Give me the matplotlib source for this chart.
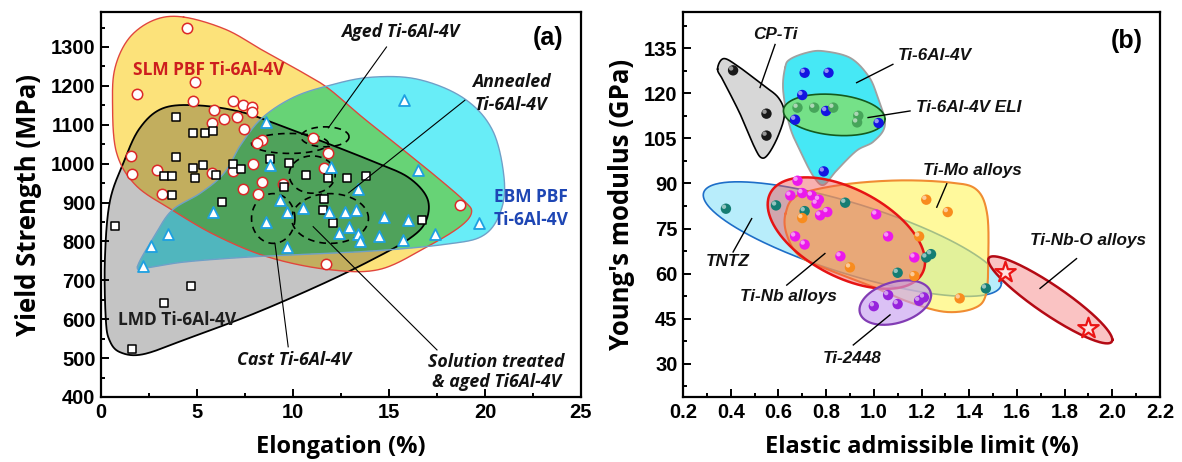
import numpy as np
import matplotlib
matplotlib.use("Agg")
import matplotlib.pyplot as plt
from matplotlib.path import Path
from matplotlib.patches import Polygon
import matplotlib.transforms as mtransforms
from matplotlib.ticker import MultipleLocator, FormatStrFormatter

# ---------------- Panel (a) data ----------------
slm_elong = [4.5, 4.9, 1.9, 4.8, 6.9, 7.4, 7.85, 5.9, 7.85, 7.1, 6.4, 5.8, 7.45, 11.05, 8.4, 8.1,
             11.8, 1.55, 7.9, 1.6, 2.9, 5.8, 6.9, 8.4, 7.4, 8.2, 9.5, 11.6, 3.2, 11.7, 18.7]
slm_ys = [1350, 1210, 1180, 1160, 1160, 1150, 1146, 1138, 1133, 1120, 1114, 1105, 1088, 1065, 1061, 1052,
          1028, 1019, 999, 973, 985, 975, 982, 953, 935, 921, 947, 988, 921, 743, 894]

lmd_elong = [3.9, 4.8, 5.4, 5.85, 3.9, 3.3, 3.7, 4.8, 5.3, 4.9, 6.9, 7.3, 6.0, 3.7, 8.8, 9.8, 9.55,
             10.7, 11.8, 12.8, 13.8, 6.3, 0.73, 4.7, 3.3, 1.6, 11.6, 11.55, 12.1, 16.7]
lmd_ys = [1119, 1078, 1079, 1084, 1018, 969, 969, 988, 996, 962, 1000, 986, 970, 919, 1013, 1002, 940,
          972, 962, 962, 969, 902, 840, 685, 641, 523, 908, 881, 848, 856]

ebm_elong = [8.6, 8.8, 12.0, 13.4, 5.85, 3.5, 2.6, 2.2, 9.3, 9.7, 10.5, 8.6, 9.7, 11.9, 12.7, 13.3,
             12.4, 12.9, 13.4, 13.5, 14.5, 14.75, 16.0, 15.75, 17.4, 19.7, 15.8, 16.5]
ebm_ys = [1108, 996, 992, 934, 875, 819, 788, 737, 906, 876, 887, 851, 786, 876, 875, 882,
          822, 838, 820, 801, 814, 863, 856, 805, 820, 848, 1163, 983]

# region outlines (control points, data units)
slm_zone_x = [4.3, 6.5, 8.4, 10.3, 11.8, 13.6, 15.5, 17.5, 18.9, 19.3, 18.7, 17.0, 14.5, 11.8, 8.7, 6.0,
              3.7, 1.8, 0.8, 0.6, 0.75, 1.5, 2.8]
slm_zone_y = [1377, 1345, 1292, 1240, 1195, 1120, 1045, 965, 905, 875, 838, 787, 728, 728, 760, 815,
              881, 945, 1030, 1160, 1250, 1325, 1370]
lmd_zone_x = [0.25, 0.2, 0.45, 1.15, 2.0, 3.2, 5.0, 7.3, 9.5, 11.8, 14.2, 16.0, 17.0, 16.9, 16.0, 14.0,
              11.5, 8.0, 4.5, 2.2, 1.0, 0.45]
lmd_zone_y = [600, 750, 900, 1000, 1090, 1142, 1150, 1133, 1095, 1052, 1005, 965, 910, 850, 805, 750,
              690, 615, 550, 510, 515, 545]
ebm_zone_x = [1.9, 2.8, 3.7, 5.2, 6.4, 7.3, 8.4, 10.0, 11.8, 14.0, 16.5, 18.9, 20.4, 21.0, 20.8, 19.9,
              18.0, 14.0, 8.4, 4.5, 2.5]
ebm_zone_y = [735, 815, 880, 925, 975, 1050, 1118, 1170, 1200, 1222, 1217, 1168, 1085, 960, 875, 815,
              793, 775, 762, 748, 733]

# ---------------- Panel (b) data ----------------
cp_x = [0.41, 0.55, 0.55]
cp_y = [127.6, 113.2, 105.9]
ti64_x = [0.71, 0.81, 0.70, 0.67, 0.80, 1.02, 0.79]
ti64_y = [126.8, 126.8, 119.4, 111.2, 114.1, 110.1, 94.0]
eli_x = [0.68, 0.75, 0.83, 0.935, 0.93]
eli_y = [115.2, 115.2, 115.2, 112.5, 110.3]
tinb_x = [0.68, 0.65, 0.70, 0.74, 0.77, 0.76, 0.805, 0.775, 1.01, 1.06, 0.67, 0.71, 0.86, 1.17]
tinb_y = [90.9, 86.0, 86.8, 86.0, 84.6, 83.3, 80.5, 79.4, 79.7, 72.4, 72.4, 69.7, 65.8, 65.4]
timo_x = [1.22, 1.31, 0.70, 1.19, 0.90, 1.17, 1.36]
timo_y = [84.6, 80.5, 78.5, 72.4, 62.1, 59.2, 51.8]
tntz_x = [0.38, 0.59, 0.71, 0.88, 1.10, 1.22, 1.24, 1.47]
tntz_y = [81.6, 82.7, 80.8, 83.6, 60.3, 65.4, 66.5, 55.1]
ti2448_x = [1.0, 1.06, 1.10, 1.19, 1.21]
ti2448_y = [49.2, 52.9, 49.9, 51.0, 52.1]
tinbo_x = [1.55, 1.90]
tinbo_y = [60.6, 41.9]

cpti_zone_x = [0.345, 0.37, 0.43, 0.53, 0.60, 0.625, 0.60, 0.56, 0.53, 0.50, 0.44, 0.37]
cpti_zone_y = [128, 131.5, 129, 123, 118.5, 113, 106, 100, 98.5, 102, 113, 124]
ti64_zone_x = [0.628, 0.649, 0.72, 0.788, 0.90, 0.975, 1.012, 1.047, 1.0, 0.928, 0.844, 0.79, 0.75, 0.704, 0.649, 0.62]
ti64_zone_y = [128.5, 131.3, 133.5, 134, 131.8, 126, 119.7, 109.7, 104, 100.9, 94.3, 89.5, 92, 98.7, 108.6, 120.8]
timo_zone_x = [0.63, 0.68, 0.86, 1.10, 1.32, 1.43, 1.475, 1.48, 1.47, 1.42, 1.30, 1.15, 1.0, 0.82, 0.69, 0.635]
timo_zone_y = [80, 86, 89.5, 91, 90.3, 88, 80, 65, 53, 48.5, 47.3, 50.5, 55.5, 61, 65.8, 73]
# ellipses: centre x, centre y, half-width (x), half-height (y), shear slope
eli_ell = (0.834, 112.8, 0.213, 6.77, -6.3)
tntz_ell = (0.91, 71.5, 0.625, 12.2, -23.4)
tinb_ell = (0.885, 73.5, 0.33, 15.9, -28.8)
ti2448_ell = (1.09, 50.4, 0.15, 7.0, 16.0)
tinbo_ell = (1.74, 51.3, 0.26, 5.8, -51.0)


def closed_spline(xs, ys, n=40):
    P = np.column_stack([xs, ys]).astype(float)
    N = len(P)
    t = np.linspace(0, 1, n, endpoint=False)[:, None]
    out = []
    for i in range(N):
        p0, p1, p2, p3 = P[i - 1], P[i], P[(i + 1) % N], P[(i + 2) % N]
        out.append(0.5 * ((2 * p1) + (-p0 + p2) * t + (2 * p0 - 5 * p1 + 4 * p2 - p3) * t ** 2
                          + (-p0 + 3 * p1 - 3 * p2 + p3) * t ** 3))
    c = np.vstack(out)
    return np.vstack([c, c[:1]])


def ellipse(cx, cy, a, b, s, n=300):
    t = np.linspace(0, 2 * np.pi, n)
    return np.column_stack([cx + a * np.cos(t), cy + b * np.sin(t) + s * a * np.cos(t)])


def rgb(r, g, b):
    return (r / 255, g / 255, b / 255)


plt.rcParams['font.family'] = ['Liberation Sans', 'DejaVu Sans']
fig = plt.figure(figsize=(11.82, 4.62), dpi=100)
axA = fig.add_axes([101 / 1182, 1 - 397 / 462, 480 / 1182, 385 / 462])
axB = fig.add_axes([683 / 1182, 1 - 397 / 462, 477 / 1182, 385 / 462])

# ================= Panel (a) =================
xlimA, ylimA = (0, 25), (400, 1390)
slm_c = closed_spline(slm_zone_x, slm_zone_y)
lmd_c = closed_spline(lmd_zone_x, lmd_zone_y)
ebm_c = closed_spline(ebm_zone_x, ebm_zone_y)

nx, ny = 1400, 1000
gx = np.linspace(*xlimA, nx)
gy = np.linspace(*ylimA, ny)
GX, GY = np.meshgrid(gx, gy)
pts = np.column_stack([GX.ravel(), GY.ravel()])
img = np.ones((ny, nx, 3))
for curve, col in [(lmd_c, (0.77, 0.77, 0.77)),
                   (slm_c, (0.99, 0.89, 0.48)),
                   (ebm_c, (0.41, 0.93, 0.97))]:
    m = Path(curve).contains_points(pts).reshape(ny, nx)
    img[m] *= np.array(col)
axA.imshow(img, extent=(*xlimA, *ylimA), origin='lower', aspect='auto',
           interpolation='bilinear', zorder=0)
axA.plot(lmd_c[:, 0], lmd_c[:, 1], color='black', lw=1.3, zorder=2)
axA.plot(slm_c[:, 0], slm_c[:, 1], color=rgb(225, 70, 60), lw=1.0, zorder=2)
axA.plot(ebm_c[:, 0], ebm_c[:, 1], color=rgb(110, 160, 200), lw=1.0, zorder=2)

# dashed treatment ellipses
for e in [(9.84, 1052, 2.0, 25.7, 0.0), (11.67, 1069, 1.25, 25.7, 0.0),
          (11.0, 972, 1.2, 48, 0.0), (8.97, 859, 1.13, 64, 0.0), (11.93, 859, 2.0, 64, 0.0)]:
    c = ellipse(*e)
    axA.plot(c[:, 0], c[:, 1], color='black', lw=1.2, ls=(0, (4, 3)), zorder=3)

axA.scatter(slm_elong, slm_ys, s=56, marker='o', facecolors='white',
            edgecolors=rgb(220, 40, 40), linewidths=1.1, zorder=5)
axA.scatter(lmd_elong, lmd_ys, s=40, marker='s', facecolors='white',
            edgecolors='black', linewidths=1.1, zorder=6)
axA.scatter(ebm_elong, ebm_ys, s=62, marker='^', facecolors='white',
            edgecolors=rgb(30, 160, 225), linewidths=1.3, zorder=7)

axA.set_xlim(*xlimA)
axA.set_ylim(*ylimA)
axA.xaxis.set_major_locator(MultipleLocator(5))
axA.xaxis.set_minor_locator(MultipleLocator(2.5))
axA.set_yticks(np.arange(400, 1301, 100))
axA.yaxis.set_minor_locator(MultipleLocator(50))
axA.set_ylim(*ylimA)

fa = dict(family='Open Sans', weight='bold', fontsize=12.5, ha='center', va='center', zorder=9)
axA.text(5.6, 1241, 'SLM PBF Ti-6Al-4V', color=rgb(205, 30, 30), **fa)
axA.text(3.98, 598, 'LMD Ti-6Al-4V', color=rgb(30, 30, 30), **fa)
axA.text(22.4, 915, 'EBM PBF', color=rgb(30, 70, 180), **fa)
axA.text(22.4, 855, 'Ti-6Al-4V', color=rgb(30, 70, 180), **fa)
fi = dict(family='Open Sans', weight='bold', style='italic', color='#111111', fontsize=12.8,
          ha='center', va='center', zorder=9)
axA.text(15.6, 1339, 'Aged Ti-6Al-4V', **fi)
axA.text(21.35, 1210, 'Annealed', **fi)
axA.text(21.35, 1150, 'Ti-6Al-4V', **fi)
axA.text(10.05, 495, 'Cast Ti-6Al-4V', **fi)
axA.text(20.6, 491, 'Solution treated', **fi)
axA.text(20.6, 439, '& aged Ti6Al-4V', **fi)
for (x0, y0, x1, y1) in [(14.87, 1300, 11.84, 1092), (18.95, 1163, 12.9, 925),
                         (9.75, 529, 9.06, 795), (17.5, 521, 11.05, 838)]:
    axA.plot([x0, x1], [y0, y1], color='black', lw=0.8, zorder=8)
axA.text(23.3, 1322, '(a)', fontsize=18, weight='bold', ha='center', va='center', zorder=9)
axA.set_xlabel('Elongation (%)', fontsize=17, family='Open Sans', weight='bold', labelpad=10)
axA.set_ylabel('Yield Strength (MPa)', fontsize=18.5, family='Open Sans', weight='bold', labelpad=6)

# ================= Panel (b) =================
xlimB, ylimB = (0.2, 2.2), (19, 147)


def zone(ax, curve, face, edge, lw, alpha, z):
    ax.add_patch(Polygon(curve, closed=True, facecolor=face, edgecolor='none', alpha=alpha, zorder=z))
    ax.plot(curve[:, 0], curve[:, 1], color=edge, lw=lw, zorder=z + 0.1)


zone(axB, closed_spline(ti64_zone_x, ti64_zone_y), rgb(70, 232, 245), rgb(160, 160, 160), 1.3, 1.0, 1)
zone(axB, ellipse(*tntz_ell), rgb(160, 232, 250), rgb(30, 110, 200), 1.2, 0.75, 2)
zone(axB, closed_spline(timo_zone_x, timo_zone_y), rgb(255, 245, 90), rgb(240, 140, 50), 1.5, 0.6, 3)
zone(axB, ellipse(*tinb_ell), rgb(240, 80, 80), rgb(230, 20, 20), 1.8, 0.45, 4)
zone(axB, ellipse(*ti2448_ell), rgb(200, 160, 240), rgb(130, 60, 180), 1.6, 0.65, 4.5)
zone(axB, ellipse(*tinbo_ell), rgb(250, 195, 195), rgb(180, 10, 20), 1.8, 1.0, 5)
zone(axB, closed_spline(cpti_zone_x, cpti_zone_y), rgb(215, 215, 215), 'black', 1.2, 1.0, 5)
zone(axB, ellipse(*eli_ell), rgb(120, 225, 130), rgb(20, 90, 30), 1.2, 0.95, 5.5)

hl = mtransforms.offset_copy(axB.transData, fig=fig, x=-1.4, y=1.4, units='points')


def balls(ax, xs, ys, col, z):
    ax.scatter(xs, ys, s=56, color=col, edgecolors='none', zorder=z)
    ax.scatter(xs, ys, s=10, color='white', alpha=0.55, edgecolors='none', zorder=z + 0.05, transform=hl)


balls(axB, cp_x, cp_y, rgb(25, 25, 25), 7)
balls(axB, ti64_x, ti64_y, rgb(20, 20, 225), 7)
balls(axB, eli_x, eli_y, rgb(70, 165, 90), 7.2)
balls(axB, tntz_x, tntz_y, rgb(20, 125, 115), 7)
balls(axB, timo_x, timo_y, rgb(248, 140, 30), 7)
balls(axB, tinb_x, tinb_y, rgb(235, 25, 235), 7.1)
balls(axB, ti2448_x, ti2448_y, rgb(150, 35, 220), 7)
axB.scatter(tinbo_x, tinbo_y, s=240, marker='*', facecolors=rgb(255, 225, 225),
            edgecolors=rgb(235, 20, 20), linewidths=1.6, zorder=8)

fb = dict(weight='bold', style='italic', fontsize=12.3, color='#111111', zorder=9)
axB.text(0.589, 139.5, 'CP-Ti', ha='center', va='center', **fb)
axB.text(1.101, 132.4, 'Ti-6Al-4V', ha='left', va='center', **fb)
axB.text(1.177, 115.1, 'Ti-6Al-4V ELI', ha='left', va='center', **fb)
axB.text(1.206, 94.3, 'Ti-Mo alloys', ha='left', va='center', **fb)
axB.text(0.389, 63.9, 'TNTZ', ha='center', va='center', **fb)
axB.text(0.641, 52.5, 'Ti-Nb alloys', ha='center', va='center', **fb)
axB.text(0.911, 31.9, 'Ti-2448', ha='center', va='center', **fb)
axB.text(1.9, 71.1, 'Ti-Nb-O alloys', ha='center', va='center', **fb)
for (x0, y0, x1, y1) in [(0.586, 136.2, 0.523, 121.9), (1.08, 129.6, 0.928, 123.5),
                         (1.152, 114.1, 0.976, 111.9), (1.306, 89.9, 1.264, 82.1),
                         (0.41, 67.2, 0.488, 78.3), (0.635, 56.2, 0.795, 66.7),
                         (0.914, 36.3, 1.068, 46.3), (1.85, 65.0, 1.697, 55.1)]:
    axB.plot([x0, x1], [y0, y1], color='black', lw=1.0, zorder=8.5)
axB.text(2.06, 137.3, '(b)', fontsize=18, weight='bold', ha='center', va='center', zorder=9)

axB.set_xlim(*xlimB)
axB.set_ylim(*ylimB)
axB.xaxis.set_major_locator(MultipleLocator(0.2))
axB.xaxis.set_minor_locator(MultipleLocator(0.1))
axB.set_yticks(np.arange(30, 136, 15))
axB.yaxis.set_minor_locator(MultipleLocator(7.5))
axB.set_ylim(*ylimB)
axB.xaxis.set_major_formatter(FormatStrFormatter('%.1f'))
axB.set_xlabel('Elastic admissible limit (%)', fontsize=17, family='Open Sans', weight='bold', labelpad=10)
axB.set_ylabel("Young's modulus (GPa)", fontsize=18.5, family='Open Sans', weight='bold', labelpad=6)

for ax in (axA, axB):
    for sp in ax.spines.values():
        sp.set_linewidth(1.6)
    ax.tick_params(which='both', direction='in', top=False, right=False, width=1.4)
    ax.tick_params(which='major', length=5.5, labelsize=14.5, pad=4)
    ax.tick_params(which='minor', length=3)
    for lab in ax.get_xticklabels() + ax.get_yticklabels():
        lab.set_fontweight('bold')

fig.savefig('out.png', dpi=100)
